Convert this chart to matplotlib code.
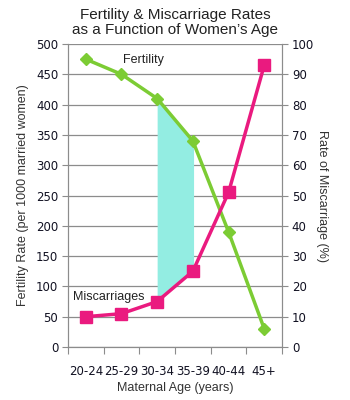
import numpy as np
import matplotlib.pyplot as plt

plt.rcParams['font.family'] = ['Liberation Sans', 'DejaVu Sans']

# 年龄组与两条曲线的数据
ages = ['20-24', '25-29', '30-34', '35-39', '40-44', '45+']
fertility = [475, 450, 410, 340, 190, 30]        # 每1000名已婚女性
miscarriage = [10, 11, 15, 25, 51, 93]           # 流产率 (%)

green = '#7ccc34'
pink = '#ea1a7f'
shade = '#93ede2'
grid_c = '#8c8c8c'

fig = plt.figure(figsize=(3.5, 4), dpi=100)
ax = fig.add_axes([0.194, 0.1325, 0.612, 0.7575])
ax2 = ax.twinx()

x = np.arange(len(ages))

ax.set_xlim(-0.5, len(ages) - 0.5)
ax.set_ylim(0, 500)
ax2.set_ylim(0, 100)
ax.set_yticks(range(0, 501, 50))
ax2.set_yticks(range(0, 101, 10))
ax.grid(axis='y', color=grid_c, lw=0.9)
ax.set_axisbelow(True)

# 30-34 到 35-39 之间两条曲线夹住的区域
xs = np.linspace(2, 3.02, 50)
f_top = np.interp(xs, x, fertility)
m_bot = np.interp(xs, x, np.array(miscarriage) * 5)
ax.fill_between(xs, m_bot, f_top, color=shade, lw=0, zorder=1)

ax.plot(x, fertility, color=green, lw=2.5, marker='D', ms=6.5, zorder=3)
ax2.plot(x, miscarriage, color=pink, lw=2.5, marker='s', ms=8.5, zorder=3)

ax.set_xticks(np.arange(-0.5, len(ages)), minor=False)
ax.set_xticklabels([])
ax.set_xticks(x, minor=True)
ax.set_xticklabels(ages, minor=True)
ax.tick_params(axis='x', which='major', length=5, color=grid_c, direction='out')
ax.tick_params(axis='x', which='minor', length=0, pad=13, labelsize=8.5)
ax.tick_params(axis='y', length=4, color=grid_c, labelsize=8.5, pad=3)
ax2.tick_params(axis='y', length=4, color=grid_c, labelsize=8.5, pad=3)
for lab in ax.get_xticklabels(minor=True) + ax.get_yticklabels() + ax2.get_yticklabels():
    lab.set_family('DejaVu Sans')
    lab.set_color('#111122')

for a in (ax, ax2):
    a.spines['top'].set_visible(False)
    for s in ('left', 'right', 'bottom'):
        a.spines[s].set_color(grid_c)

ax.set_xlabel('Maternal Age (years)', fontsize=9, color='#333333', labelpad=3)
ax.set_ylabel('Fertility Rate (per 1000 married women)', fontsize=9, color='#333333', labelpad=5)
ax2.set_ylabel('Rate of Miscarriage (%)', fontsize=9, color='#333333', rotation=-90, labelpad=10)

ax.text(1.05, 473, 'Fertility', fontsize=9, color='#222222', va='center')
ax.text(-0.35, 83, 'Miscarriages', fontsize=9, color='#222222', va='center')

fig.text(0.5, 0.98, 'Fertility & Miscarriage Rates\nas a Function of Women\u2019s Age',
         ha='center', va='top', fontsize=11, color='#222222', linespacing=1.05)

fig.savefig('out.png', dpi=100)
